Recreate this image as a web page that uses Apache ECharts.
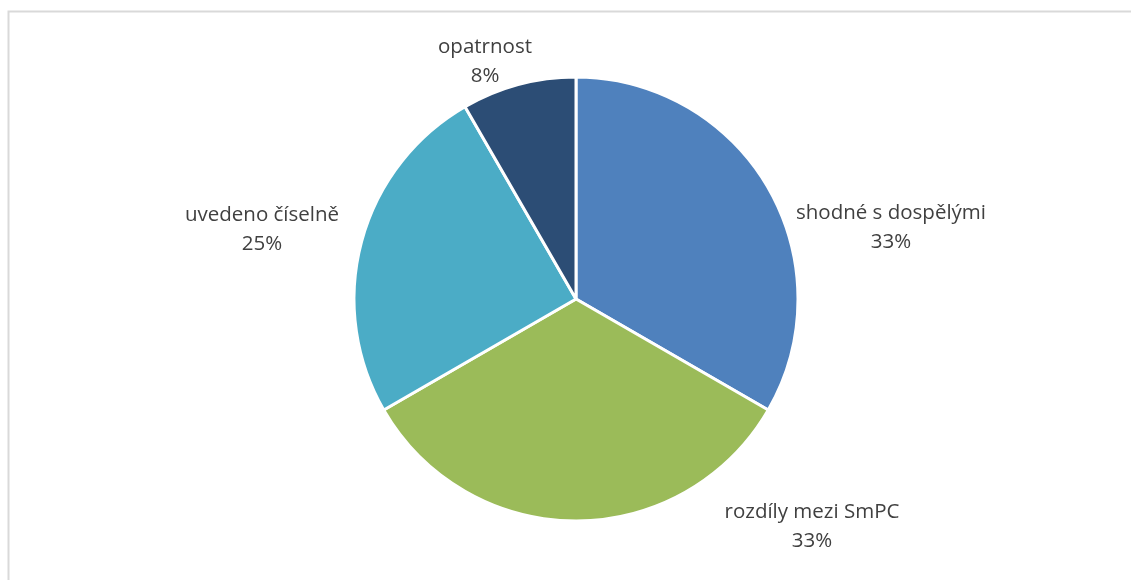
<!DOCTYPE html>
<html>
<head>
<meta charset="utf-8">
<script src="https://cdn.jsdelivr.net/npm/echarts@6/dist/echarts.min.js"></script>
<style>
  html, body { margin: 0; padding: 0; background: #fff; }
  #chart { width: 1131px; height: 580px; }
</style>
</head>
<body>
<div id="chart"></div>
<script>
// Categories and their counts (shares of the whole)
const categories = ['shodné s dospělými', 'rozdíly mezi SmPC', 'uvedeno číselně', 'opatrnost'];
const counts = [4, 4, 3, 1];
const colors = ['#4F81BD', '#9BBB59', '#4BACC6', '#2C4D75'];

// Pie geometry (pixels)
const CX = 576, CY = 299, R = 222;
// Label centres relative to the pie centre
const labelOffsets = [[315, -71], [236, 228], [-314, -69], [-91, -237]];

const chart = echarts.init(document.getElementById('chart'), null, { renderer: 'canvas' });

const total = counts.reduce((a, b) => a + b, 0);

chart.setOption({
  backgroundColor: '#ffffff',
  animation: false,
  graphic: [{
    type: 'rect',
    shape: { x: 8.5, y: 11.5, width: 1200, height: 700 },
    style: { fill: 'none', stroke: '#d9d9d9', lineWidth: 2 },
    silent: true
  }],
  series: [{
    type: 'pie',
    center: [CX, CY],
    radius: [0, R],
    startAngle: 90,
    clockwise: true,
    avoidLabelOverlap: false,
    data: categories.map((name, i) => ({
      name,
      value: counts[i],
      itemStyle: { color: colors[i] }
    })),
    itemStyle: { borderColor: '#ffffff', borderWidth: 3 },
    label: {
      show: true,
      position: 'outside',
      formatter: p => p.name + '\n' + Math.round(p.value / total * 100) + '%',
      fontFamily: 'Open Sans',
      fontSize: 20.5,
      lineHeight: 29,
      color: '#404040',
      align: 'center'
    },
    labelLine: { show: false },
    labelLayout: params => {
      const off = labelOffsets[params.dataIndex];
      return { x: CX + off[0], y: CY + off[1], align: 'center', verticalAlign: 'middle' };
    },
    emphasis: { disabled: true }
  }]
});
</script>
</body>
</html>
